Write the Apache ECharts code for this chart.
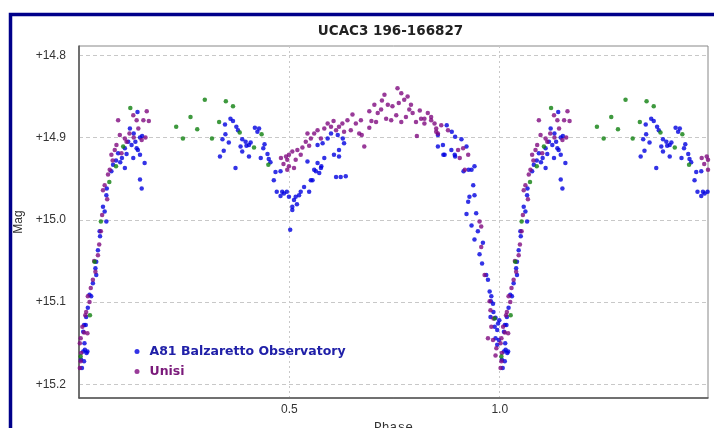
<!DOCTYPE html>
<html>
<head>
<meta charset="utf-8">
<script src="https://cdn.jsdelivr.net/npm/echarts/dist/echarts.min.js"></script>
<style>
html,body{margin:0;padding:0;background:#fff;}
#chart{width:714px;height:428px;}
</style>
</head>
<body>
<div id="chart"></div>
<script>
// Phase-folded photometry [phase (0..1), magnitude]; the chart repeats phase 0..0.5 at 1..1.5
const titleText = 'UCAC3 196-166827';
const yTicks = [14.8, 14.9, 15.0, 15.1, 15.2];
const xTicks = [0.5, 1.0];

const balzaretto = [
  [0.007,15.180],[0.012,15.172],[0.010,15.160],[0.013,15.150],[0.010,15.136],[0.012,15.128],[0.017,15.118],[0.021,15.107],
  [0.029,15.093],[0.025,15.091],[0.033,15.077],[0.041,15.067],[0.039,15.059],[0.041,15.051],[0.045,15.037],[0.049,15.014],
  [0.050,15.020],[0.065,15.002],[0.061,14.990],[0.057,14.984],[0.065,14.970],[0.066,14.962],[0.077,14.941],[0.081,14.933],
  [0.088,14.928],[0.093,14.919],[0.109,14.937],[0.109,14.913],[0.117,14.905],[0.125,14.909],[0.137,14.913],[0.121,14.889],
  [0.130,14.895],[0.139,14.869],[0.145,14.900],[0.150,14.898],[0.145,14.921],[0.129,14.925],[0.156,14.931],[0.145,14.951],
  [0.149,14.962],[0.113,14.920],[0.102,14.925],[0.134,14.905],[0.140,14.915],[0.098,14.930],[0.014,15.158],[0.018,15.162],
  [0.005,15.170],[0.016,15.128],[0.020,15.160],
  [0.360,14.877],[0.366,14.880],[0.347,14.884],[0.374,14.887],[0.378,14.891],[0.348,14.896],[0.341,14.902],[0.388,14.902],
  [0.396,14.905],[0.408,14.906],[0.356,14.906],[0.418,14.888],[0.428,14.889],[0.424,14.893],[0.404,14.909],[0.384,14.911],
  [0.398,14.910],[0.441,14.908],[0.438,14.913],[0.344,14.916],[0.388,14.917],[0.448,14.920],[0.432,14.925],[0.335,14.923],
  [0.404,14.923],[0.451,14.926],[0.455,14.930],[0.372,14.937],[0.467,14.942],[0.479,14.941],[0.463,14.952],[0.470,14.966],
  [0.483,14.966],[0.494,14.966],[0.499,14.972],[0.479,14.971],[0.511,14.976],[0.507,14.984],[0.518,14.981],[0.507,14.988],
  [0.502,15.012],[0.527,14.966],[0.535,14.960],[0.547,14.966],[0.551,14.952],[0.563,14.941],[0.571,14.943],[0.576,14.935],
  [0.611,14.948],[0.622,14.948],[0.634,14.947],[0.567,14.931],[0.618,14.923],[0.543,14.929],[0.583,14.925],[0.606,14.921],
  [0.618,14.915],[0.567,14.909],[0.579,14.907],[0.591,14.901],[0.599,14.895],[0.615,14.897],[0.627,14.901],[0.630,14.907],
  [0.515,14.972],[0.523,14.970],[0.555,14.952],[0.559,14.939],[0.575,14.937],[0.487,14.968],
  [0.853,14.897],[0.853,14.911],[0.874,14.885],[0.886,14.893],[0.894,14.899],[0.865,14.909],[0.869,14.921],[0.885,14.915],
  [0.893,14.921],[0.909,14.902],[0.921,14.911],[0.866,14.921],[0.894,14.923],[0.926,14.939],[0.914,14.941],[0.933,14.939],
  [0.940,14.935],[0.937,14.958],[0.940,14.970],[0.928,14.972],[0.925,14.978],[0.944,14.992],[0.921,14.993],[0.933,15.007],
  [0.948,15.014],[0.940,15.024],[0.960,15.028],[0.952,15.042],[0.958,15.053],[0.968,15.067],[0.972,15.073],[0.976,15.087],
  [0.980,15.093],[0.979,15.099],[0.984,15.102],[0.978,15.118],[0.990,15.119],[0.996,15.126],[0.994,15.134],[0.990,15.144],
  [0.998,15.146],[0.994,15.152],[0.985,15.112],[0.988,15.130],[0.999,15.122]
];

const unisi = [
  [0.002,15.180],[0.005,15.162],[0.004,15.144],[0.002,15.150],[0.020,15.138],[0.012,15.137],[0.017,15.112],[0.015,15.116],
  [0.021,15.093],[0.028,15.083],[0.033,15.073],[0.039,15.063],[0.045,15.043],[0.052,15.014],[0.055,14.994],[0.057,14.964],
  [0.061,14.958],[0.069,14.945],[0.073,14.939],[0.077,14.921],[0.080,14.928],[0.085,14.915],[0.089,14.909],[0.097,14.897],
  [0.101,14.919],[0.109,14.901],[0.093,14.879],[0.129,14.873],[0.137,14.879],[0.153,14.879],[0.161,14.868],[0.166,14.880],
  [0.141,14.889],[0.149,14.903],[0.120,14.895],[0.130,14.900],[0.158,14.900],[0.113,14.905],[0.067,14.975],[0.048,15.030],
  [0.036,15.050],[0.025,15.100],[0.008,15.130],[0.004,15.172],
  [0.480,14.925],[0.486,14.932],[0.492,14.923],[0.495,14.927],[0.499,14.921],[0.507,14.917],[0.515,14.927],[0.499,14.935],
  [0.511,14.937],[0.495,14.939],[0.519,14.915],[0.527,14.921],[0.531,14.912],[0.539,14.905],[0.543,14.895],[0.547,14.910],
  [0.551,14.901],[0.559,14.895],[0.567,14.891],[0.575,14.901],[0.583,14.889],[0.591,14.883],[0.599,14.887],[0.605,14.880],
  [0.611,14.891],[0.618,14.887],[0.626,14.883],[0.630,14.893],[0.638,14.879],[0.646,14.891],[0.650,14.872],[0.658,14.883],
  [0.670,14.879],[0.666,14.895],[0.672,14.897],[0.678,14.911],[0.690,14.868],[0.690,14.888],[0.695,14.880],[0.702,14.860],
  [0.710,14.870],[0.706,14.881],[0.718,14.866],[0.720,14.855],[0.726,14.848],[0.734,14.860],[0.730,14.877],[0.742,14.879],
  [0.745,14.862],[0.754,14.873],[0.757,14.840],[0.760,14.858],[0.766,14.846],[0.773,14.854],[0.781,14.850],[0.785,14.866],
  [0.789,14.860],[0.793,14.870],[0.777,14.875],[0.766,14.881],[0.801,14.881],[0.803,14.898],[0.810,14.867],[0.813,14.877],
  [0.821,14.883],[0.829,14.870],[0.837,14.875],[0.845,14.883],[0.849,14.889],[0.853,14.895],
  [0.821,14.877],[0.837,14.879],[0.861,14.885],[0.877,14.891],[0.849,14.893],[0.901,14.915],[0.905,14.925],[0.913,14.913],
  [0.925,14.921],[0.917,14.939],[0.952,15.002],[0.956,15.008],[0.956,15.033],[0.964,15.067],[0.976,15.099],[0.978,15.110],
  [0.985,15.120],[0.980,15.130],[0.972,15.144],[0.984,15.146],[0.992,15.156],[0.990,15.165]
];

const other = [
  [0.299,14.854],[0.349,14.856],[0.366,14.862],[0.265,14.875],[0.231,14.887],[0.281,14.890],[0.247,14.901],[0.316,14.901],
  [0.333,14.881],[0.382,14.894],[0.434,14.896],[0.416,14.912],[0.450,14.933],[0.122,14.864],[0.105,14.911],[0.088,14.935],
  [0.072,14.954],[0.052,15.002],[0.037,15.051],[0.026,15.116],[0.004,15.166],[0.988,15.120]
];

function repeatPhase(arr) {
  return arr.concat(arr.map(p => [p[0] + 1, p[1]]));
}

const chart = echarts.init(document.getElementById('chart'), null, {renderer: 'canvas'});
const FONT = 'Liberation Sans, Arial, sans-serif';
const BOLD_FONT = 'DejaVu Sans, Verdana, sans-serif';

chart.setOption({
  animation: false,
  backgroundColor: '#fff',
  graphic: [{
    type: 'rect', silent: true, z: 100,
    shape: {x: 10.5, y: 14.5, width: 740, height: 440},
    style: {fill: 'none', stroke: '#00008a', lineWidth: 3.5}
  }],
  title: {
    text: titleText, left: 390.5, top: 24, padding: 0, textAlign: 'center',
    textStyle: {fontFamily: BOLD_FONT, fontSize: 13.5, fontWeight: 'bold', color: '#222'}
  },
  legend: {
    orient: 'vertical', left: 134.5, top: 345, padding: 0, itemWidth: 5, itemHeight: 5, itemGap: 7,
    icon: 'circle',
    data: [
      {name: 'A81 Balzaretto Observatory', textStyle: {color: '#2020a8'}},
      {name: 'Unisi', textStyle: {color: '#7a1a7a'}}
    ],
    textStyle: {fontFamily: BOLD_FONT, fontSize: 12.5, fontWeight: 'bold', padding: [0, 0, 0, 5]}
  },
  grid: {left: 79, top: 46, right: 6, bottom: 30, show: true, borderColor: '#888', borderWidth: 1,
         containLabel: false, outerBoundsMode: 'none'},
  xAxis: {
    type: 'value', min: 0, max: 1.495,
    name: 'Phase', nameLocation: 'middle', nameGap: 20,
    nameTextStyle: {fontFamily: 'Liberation Mono, Courier New, monospace', fontSize: 13, color: '#333'},
    axisLine: {show: true, onZero: false, lineStyle: {color: '#555', width: 1.5}},
    axisTick: {show: false, customValues: xTicks},
    axisLabel: {customValues: xTicks, formatter: v => v.toFixed(1), fontFamily: FONT, fontSize: 12, color: '#333', margin: 6},
    splitLine: {show: true, lineStyle: {color: '#c8c8c8', type: [2, 3], width: 1}}
  },
  yAxis: {
    type: 'value', inverse: true, min: 14.7887, max: 15.2166,
    name: 'Mag', nameLocation: 'middle', nameGap: 48,
    nameTextStyle: {fontFamily: FONT, fontSize: 12, color: '#333'},
    axisLine: {show: true, onZero: false, lineStyle: {color: '#555', width: 1.5}},
    axisTick: {show: false, customValues: yTicks},
    axisLabel: {customValues: yTicks, formatter: v => '+' + v.toFixed(1), fontFamily: FONT, fontSize: 12, color: '#333', margin: 13},
    splitLine: {show: true, lineStyle: {color: '#c8c8c8', type: [4, 3], width: 1}}
  },
  series: [
    {name: 'A81 Balzaretto Observatory', type: 'scatter', symbol: 'circle', symbolSize: 4.5,
     itemStyle: {color: '#0000e0'}, data: repeatPhase(balzaretto), clip: true},
    {name: 'Unisi', type: 'scatter', symbol: 'circle', symbolSize: 4.5,
     itemStyle: {color: '#800a80'}, data: repeatPhase(unisi), clip: true},
    {name: 'Other', type: 'scatter', symbol: 'circle', symbolSize: 4.5,
     itemStyle: {color: '#0e800e'}, data: repeatPhase(other), clip: true}
  ]
});
</script>
</body>
</html>
